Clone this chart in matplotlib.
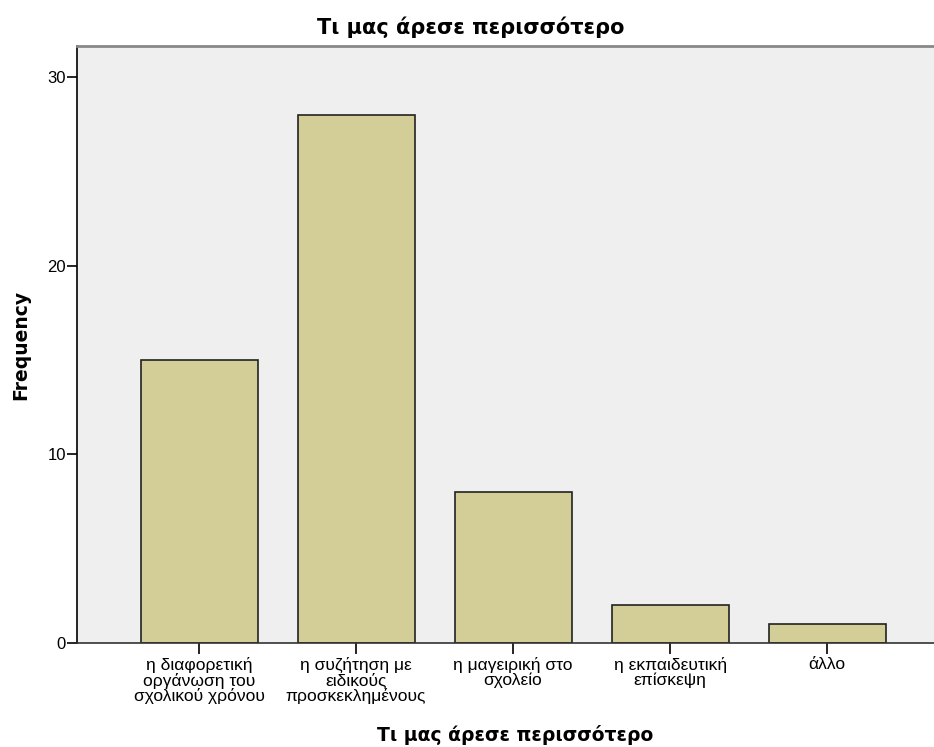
import numpy as np
import matplotlib
matplotlib.use("Agg")
import matplotlib.pyplot as plt

# data
categories = ["η διαφορετική\nοργάνωση του\nσχολικού χρόνου",
              "η συζήτηση με\nειδικούς\nπροσκεκλημένους",
              "η μαγειρική στο\nσχολείο",
              "η εκπαιδευτική\nεπίσκεψη",
              "άλλο"]
frequency = [15, 28, 8, 2, 1]
yticks = [0, 10, 20, 30]
title = "Τι μας άρεσε περισσότερο"

plt.rcParams['font.family'] = ['Liberation Sans', 'DejaVu Sans']
bold_font = ['DejaVu Sans']

fig = plt.figure(figsize=(9.34, 7.47), dpi=100)
ax = fig.add_axes([77 / 934, 104 / 747, 1 - 77 / 934, 597 / 747])
ax.set_facecolor("#efefef")

x = np.arange(len(categories))
ax.bar(x, frequency, width=0.745, color="#d3ce98", edgecolor="#222222", linewidth=1.2, zorder=2)

ax.set_xlim(-0.777, 4.68)
ax.set_ylim(0, 31.64)
ax.set_yticks(yticks)
ax.set_xticks(x)
ax.set_xticklabels(categories, fontsize=12.5, linespacing=0.98)
ax.tick_params(axis='y', labelsize=12, length=7, width=1.2, pad=1)
ax.tick_params(axis='x', length=8, width=1.2, pad=2)

ax.spines['left'].set_linewidth(1.2)
ax.spines['bottom'].set_linewidth(1.2)
ax.spines['bottom'].set_color("#333333")
ax.spines['top'].set_color("#888888")
ax.spines['top'].set_linewidth(2)
ax.spines['right'].set_visible(False)

ax.set_xlabel(title, fontsize=13.5, fontweight='bold', family=bold_font)
ax.xaxis.set_label_coords(0.511, -0.137)
ax.set_ylabel("Frequency", fontsize=13.5, fontweight='bold', labelpad=12, family=bold_font)
fig.text(0.504, 0.963, title, ha='center', va='center', fontsize=15, fontweight='bold',
         family=bold_font)

fig.savefig("out.png", dpi=100)
